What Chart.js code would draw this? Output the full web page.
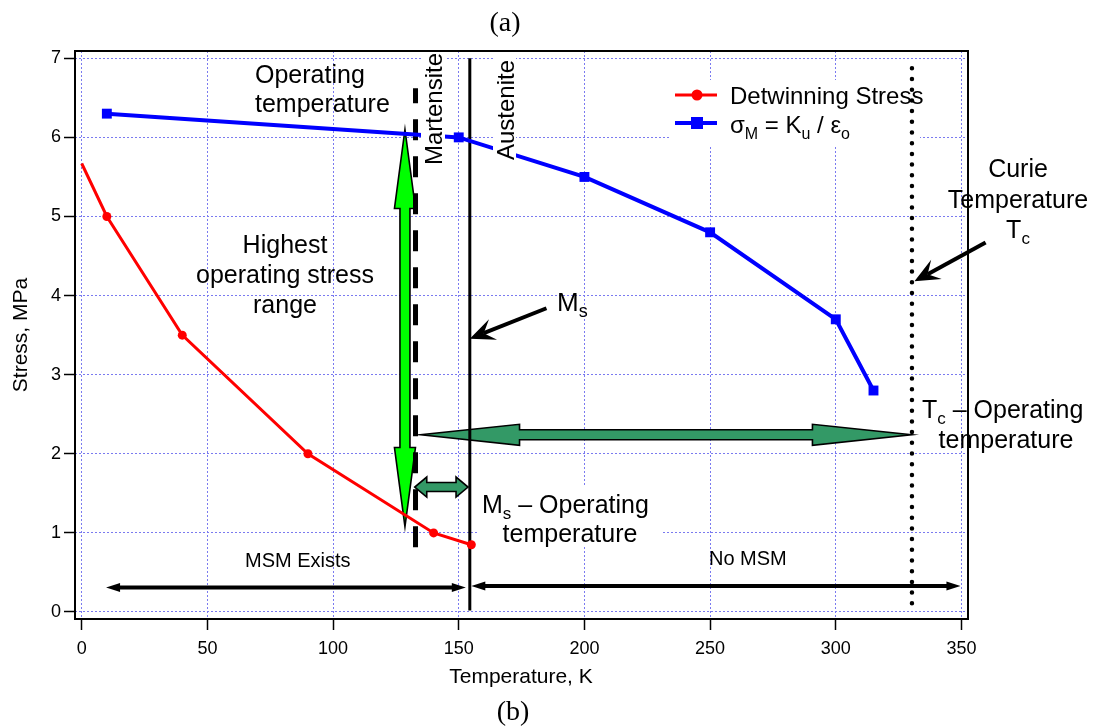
<!DOCTYPE html>
<html>
<head>
<meta charset="utf-8">
<script src="https://cdn.jsdelivr.net/npm/chart.js@4.4.1/dist/chart.umd.min.js"></script>
<style>
body{margin:0;background:#fff;}
#wrap{width:1099px;height:727px;position:relative;}
</style>
</head>
<body>
<div id="wrap"><canvas id="chart"></canvas></div>
<script>
const xTicks=[0,50,100,150,200,250,300,350];
const yTicks=[0,1,2,3,4,5,6,7];

const tempDetwin=[0,10,40,90,140,155];
const stressDetwin=[5.67,5.0,3.5,2.0,1.0,0.85];
const tempSigma=[10,150,200,250,300,315];
const stressSigma=[6.3,6.0,5.5,4.8,3.7,2.8];

// vertical reference lines: temperature and stress span
const opTemp=132.8, opTempSpan=[0.82,6.62];
const msTemp=154.4, msSpan=[0.02,7.0];
const curieTemp=330.3, curieSpan=[0.11,6.95];

// arrows [from, to] in (K, MPa)
const stressRangeArrow=[[128.6,1.08],[128.6,6.1]];
const tcRangeArrow=[[134.8,2.24],[330.1,2.24]];
const msRangeArrow=[[132.5,1.58],[153.7,1.58]];
const msmExistsArrow=[[9.7,0.31],[152.8,0.31]];
const noMsmArrow=[[155,0.33],[349.6,0.33]];
const msPointer=[[184.9,3.84],[154.4,3.455]];
const curiePointer=[[359.6,4.67],[331.3,4.18]];

const FONT='"Liberation Sans", Arial, sans-serif';
const SERIF='"Liberation Serif", "Times New Roman", serif';

function toPx(chart,p){return [chart.scales.x.getPixelForValue(p[0]),chart.scales.y.getPixelForValue(p[1])];}

function blockArrow(ctx,a,b,hl,hw,sw,fill){
    const dx=b[0]-a[0],dy=b[1]-a[1],L=Math.hypot(dx,dy);
    const ux=dx/L,uy=dy/L,nx=-uy,ny=ux;
    const P=(p,u,n)=>[p[0]+ux*u+nx*n,p[1]+uy*u+ny*n];
    const pts=[a,P(a,hl,hw),P(a,hl,sw),P(b,-hl,sw),P(b,-hl,hw),b,P(b,-hl,-hw),P(b,-hl,-sw),P(a,hl,-sw),P(a,hl,-hw)];
    ctx.beginPath();
    pts.forEach((p,i)=>i?ctx.lineTo(p[0],p[1]):ctx.moveTo(p[0],p[1]));
    ctx.closePath();
    ctx.fillStyle=fill;ctx.fill();
    ctx.lineWidth=1.6;ctx.strokeStyle='#000';ctx.lineJoin='miter';ctx.stroke();
}

function lineArrow(ctx,a,b,hl,hw,lw){
    const dx=b[0]-a[0],dy=b[1]-a[1],L=Math.hypot(dx,dy);
    const ux=dx/L,uy=dy/L,nx=-uy,ny=ux;
    ctx.strokeStyle='#000';ctx.fillStyle='#000';ctx.lineWidth=lw;ctx.lineCap='butt';
    ctx.beginPath();ctx.moveTo(a[0]+ux*hl*0.8,a[1]+uy*hl*0.8);ctx.lineTo(b[0]-ux*hl*0.8,b[1]-uy*hl*0.8);ctx.stroke();
    [[a,1],[b,-1]].forEach(([p,s])=>{
        ctx.beginPath();
        ctx.moveTo(p[0],p[1]);
        ctx.lineTo(p[0]+s*ux*hl+nx*hw,p[1]+s*uy*hl+ny*hw);
        ctx.lineTo(p[0]+s*ux*hl-nx*hw,p[1]+s*uy*hl-ny*hw);
        ctx.closePath();ctx.fill();
    });
}

function pointer(ctx,a,b,hl,hw,lw){
    const dx=b[0]-a[0],dy=b[1]-a[1],L=Math.hypot(dx,dy);
    const ux=dx/L,uy=dy/L,nx=-uy,ny=ux;
    ctx.strokeStyle='#000';ctx.fillStyle='#000';ctx.lineWidth=lw;ctx.lineCap='butt';
    ctx.beginPath();ctx.moveTo(a[0],a[1]);ctx.lineTo(b[0]-ux*hl*0.6,b[1]-uy*hl*0.6);ctx.stroke();
    ctx.beginPath();
    ctx.moveTo(b[0],b[1]);
    ctx.lineTo(b[0]-ux*hl+nx*hw,b[1]-uy*hl+ny*hw);
    ctx.lineTo(b[0]-ux*hl*0.6,b[1]-uy*hl*0.6);
    ctx.lineTo(b[0]-ux*hl-nx*hw,b[1]-uy*hl-ny*hw);
    ctx.closePath();ctx.fill();
}

// parts: [text, isSubscript]
function rich(ctx,parts,x,y,size,align){
    const sub=Math.round(size*0.68);
    let w=0;
    const ws=parts.map(p=>{ctx.font=(p[1]?sub:size)+'px '+FONT;const m=ctx.measureText(p[0]).width;w+=m;return m;});
    let cx=align==='center'?x-w/2:x;
    ctx.textAlign='left';ctx.textBaseline='alphabetic';ctx.fillStyle='#000';
    parts.forEach((p,i)=>{
        ctx.font=(p[1]?sub:size)+'px '+FONT;
        ctx.fillText(p[0],cx,p[1]?y+size*0.24:y);
        cx+=ws[i];
    });
}

function vtext(ctx,t,x,y,size,align){
    ctx.save();ctx.translate(x,y);ctx.rotate(-Math.PI/2);
    ctx.font=size+'px '+FONT;ctx.textAlign=align;ctx.textBaseline='alphabetic';ctx.fillStyle='#000';
    ctx.fillText(t,0,0);ctx.restore();
}

const annotations={
    id:'annotations',
    beforeDatasetsDraw(chart){
        const ctx=chart.ctx;
        ctx.save();
        // legend and label boxes hide the grid
        ctx.fillStyle='#fff';
        ctx.fillRect(670,80,250,65);
        ctx.fillRect(478,487,184,60);
        blockArrow(ctx,toPx(chart,stressRangeArrow[0]),toPx(chart,stressRangeArrow[1]),79,10.5,5,'#00ff00');
        blockArrow(ctx,toPx(chart,tcRangeArrow[0]),toPx(chart,tcRangeArrow[1]),99,10.5,5,'#339966');
        blockArrow(ctx,toPx(chart,msRangeArrow[0]),toPx(chart,msRangeArrow[1]),12,10,4.5,'#339966');
        // legend
        ctx.lineWidth=3;ctx.strokeStyle='#ff0000';
        ctx.beginPath();ctx.moveTo(675,95);ctx.lineTo(717,95);ctx.stroke();
        ctx.fillStyle='#ff0000';ctx.beginPath();ctx.arc(697,95,5.5,0,Math.PI*2);ctx.fill();
        ctx.lineWidth=4;ctx.strokeStyle='#0000ff';
        ctx.beginPath();ctx.moveTo(675,123);ctx.lineTo(717,123);ctx.stroke();
        ctx.fillStyle='#0000ff';ctx.fillRect(691,117,12,12);
        rich(ctx,[['Detwinning Stress']],730,104,24,'left');
        rich(ctx,[['\u03c3'],['M',1],[' = K'],['u',1],[' / \u03b5'],['o',1]],730,133,24,'left');
        ctx.restore();
    },
    afterDatasetsDraw(chart){
        const ctx=chart.ctx,a=chart.chartArea;
        ctx.save();
        // plot frame
        ctx.strokeStyle='#000';ctx.lineWidth=2;
        ctx.strokeRect(a.left,a.top,a.right-a.left,a.bottom-a.top);
        // rotated phase labels with white backing
        ctx.fillStyle='#fff';
        ctx.fillRect(421,53,24,114);
        ctx.fillRect(493,58,23,104);
        vtext(ctx,'Martensite',442,165,24,'left');
        vtext(ctx,'Austenite',514,160,24,'left');

        rich(ctx,[['Operating']],255,83,25,'left');
        rich(ctx,[['temperature']],255,112,25,'left');
        rich(ctx,[['Highest']],285,253,25,'center');
        rich(ctx,[['operating stress']],285,283,25,'center');
        rich(ctx,[['range']],285,313,25,'center');
        rich(ctx,[['M'],['s',1]],557,311,26,'left');
        rich(ctx,[['Curie']],1018,177,25,'center');
        rich(ctx,[['Temperature']],1018,208,25,'center');
        rich(ctx,[['T'],['c',1]],1018,238,25,'center');
        rich(ctx,[['T'],['c',1],[' \u2013 Operating']],922,418,25,'left');
        rich(ctx,[['temperature']],1006,448,25,'center');
        rich(ctx,[['M'],['s',1],[' \u2013 Operating']],482,513,25,'left');
        rich(ctx,[['temperature']],570,542,25,'center');
        rich(ctx,[['MSM Exists']],245,567,20,'left');
        rich(ctx,[['No MSM']],709,565,20,'left');

        lineArrow(ctx,toPx(chart,msmExistsArrow[0]),toPx(chart,msmExistsArrow[1]),14,4.5,4);
        lineArrow(ctx,toPx(chart,noMsmArrow[0]),toPx(chart,noMsmArrow[1]),14,4.5,4);
        pointer(ctx,toPx(chart,msPointer[0]),toPx(chart,msPointer[1]),25,11,4);
        pointer(ctx,toPx(chart,curiePointer[0]),toPx(chart,curiePointer[1]),25,11,4);

        // axis titles and panel marks
        ctx.fillStyle='#000';ctx.font='21px '+FONT;ctx.textAlign='center';ctx.textBaseline='middle';
        ctx.fillText('Temperature, K',521,677);
        vtext(ctx,'Stress, MPa',27,335,21,'center');
        ctx.font='28px '+SERIF;ctx.textAlign='center';ctx.textBaseline='alphabetic';
        ctx.fillText('(a)',505,31);
        ctx.fillText('(b)',513,720);
        ctx.restore();
    }
};

const vline=(x,span)=>[{x:x,y:span[0]},{x:x,y:span[1]}];
const pairs=(xs,ys)=>xs.map((x,i)=>({x:x,y:ys[i]}));

const gridCfg={color:'#7a7af0',lineWidth:1,tickColor:'#000',tickWidth:1.5,tickLength:11,tickBorderDash:[]};

new Chart(document.getElementById('chart'),{
    type:'line',
    data:{datasets:[
        {label:'Detwinning Stress',data:pairs(tempDetwin,stressDetwin),borderColor:'#ff0000',backgroundColor:'#ff0000',borderWidth:3,
         pointRadius:[0,4.5,4.5,4.5,4.5,4.5],pointBorderWidth:0,tension:0},
        {label:'sigmaM',data:pairs(tempSigma,stressSigma),borderColor:'#0000ff',backgroundColor:'#0000ff',borderWidth:4,
         pointStyle:'rect',pointRadius:7,pointBorderWidth:0,tension:0},
        {label:'Operating temperature',data:vline(opTemp,opTempSpan),borderColor:'#000',borderWidth:5,borderDash:[21,16],pointRadius:0},
        {label:'Ms',data:vline(msTemp,msSpan),borderColor:'#000',borderWidth:3,pointRadius:0},
        {label:'Curie',data:vline(curieTemp,curieSpan),borderColor:'#000',borderWidth:4.5,borderDash:[0,10.7],borderCapStyle:'round',pointRadius:0}
    ]},
    options:{
        responsive:true,maintainAspectRatio:false,animation:false,
        layout:{padding:{top:51,right:131,left:0,bottom:0}},
        plugins:{legend:{display:false},tooltip:{enabled:false}},
        scales:{
            x:{type:'linear',min:-2.67,max:352.6,
               afterBuildTicks:s=>{s.ticks=xTicks.map(v=>({value:v}));},
               afterFit:s=>{s.height=108;},
               grid:gridCfg,border:{display:false,dash:[2,2]},
               ticks:{color:'#000',font:{family:FONT,size:18},padding:8,maxRotation:0,autoSkip:false}},
            y:{type:'linear',min:-0.0885,max:7.092,
               afterBuildTicks:s=>{s.ticks=yTicks.map(v=>({value:v}));},
               afterFit:s=>{s.width=75;},
               grid:gridCfg,border:{display:false,dash:[2,2]},
               ticks:{color:'#000',font:{family:FONT,size:18},padding:3,autoSkip:false}}
        }
    },
    plugins:[annotations]
});
</script>
</body>
</html>
